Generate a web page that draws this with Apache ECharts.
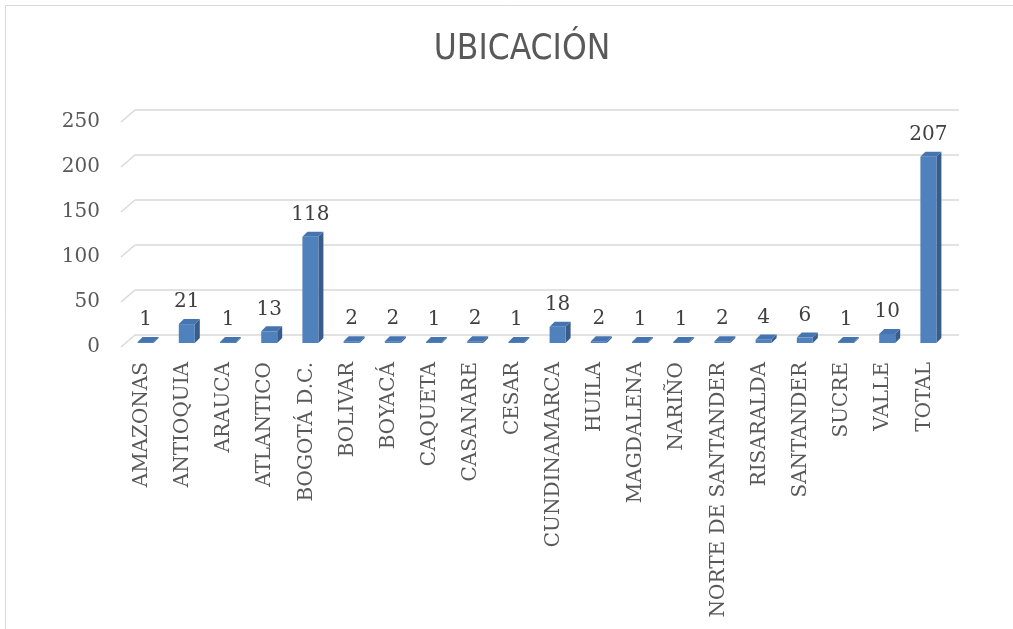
<html>
<head>
<meta http-equiv="content-type" content="text/html; charset=utf-8">
<script src="https://cdn.jsdelivr.net/npm/echarts@6/dist/echarts.min.js"></script>
<style>
html, body { margin: 0; padding: 0; background: #ffffff; }
#chart { width: 1013px; height: 629px; }
</style>
<title>Ubicación</title>
</head>
<body>
<div id="chart"></div>
<script type="text/javascript">
///////////////////////////////////////////////////////////////////////////////
// data
var categories = ["AMAZONAS", "ANTIOQUIA", "ARAUCA", "ATLANTICO", "BOGOTÁ D.C.", "BOLIVAR",
	"BOYACÁ", "CAQUETA", "CASANARE", "CESAR", "CUNDINAMARCA", "HUILA", "MAGDALENA",
	"NARIÑO", "NORTE DE SANTANDER", "RISARALDA", "SANTANDER", "SUCRE", "VALLE", "TOTAL"];
var values = [1, 21, 1, 13, 118, 2, 2, 1, 2, 1, 18, 2, 1, 1, 2, 4, 6, 1, 10, 207];
var yTicks = [0, 50, 100, 150, 200, 250];
var title = "UBICACIÓN";

///////////////////////////////////////////////////////////////////////////////
// look
var serif = "'DejaVu Serif', 'Liberation Serif', serif";
var depth_x = 14, depth_y = 12;   // back wall offset
var bar_w = 16, bar_d = 5;        // bar face width and side depth

var bar_data = categories.map(function (c, i) { return [i, values[i]]; });
var tick_data = yTicks.map(function (v) { return [0, v]; });

// back wall gridlines plus the small diagonals on the left side
function render_grid(params, api) {
	var cs = params.coordSys;
	var y = api.coord([0, api.value(1)])[1];
	var st = { stroke: '#d9d9d9', lineWidth: 1.5 };
	return {
		type: 'group',
		children: [
			{ type: 'line', shape: { x1: cs.x, y1: y, x2: cs.x + depth_x, y2: y - depth_y }, style: st },
			{ type: 'line', shape: { x1: cs.x + depth_x, y1: y - depth_y, x2: cs.x + cs.width + depth_x, y2: y - depth_y }, style: st }
		]
	};
}

// 3d looking bar: front face, right side, top, value label
function render_bar(params, api) {
	var v = api.value(1);
	var p0 = api.coord([api.value(0), 0]);
	var p1 = api.coord([api.value(0), v]);
	var cx = p0[0] + 4;
	var yb = p0[1] - 4;
	var yt = p1[1] - 4;
	if (yt > yb - 1) yt = yb - 1;
	var l = cx - bar_w / 2, r = cx + bar_w / 2;
	return {
		type: 'group',
		children: [
			{ type: 'polygon', shape: { points: [[r, yt], [r + bar_d, yt - bar_d], [r + bar_d, yb - bar_d], [r, yb]] },
				style: { fill: '#385d8a' } },
			{ type: 'rect', shape: { x: l, y: yt, width: bar_w, height: yb - yt },
				style: { fill: '#4f81bd' } },
			{ type: 'polygon', shape: { points: [[l, yt], [r, yt], [r + bar_d, yt - bar_d], [l + bar_d, yt - bar_d]] },
				style: { fill: '#4674b0' } },
			{ type: 'text', style: { text: String(v), x: cx, y: yt - 12, align: 'center', verticalAlign: 'bottom',
				fill: '#404040', font: '20px ' + serif } }
		]
	};
}

var chart = echarts.init(document.getElementById('chart'));

chart.setOption({
	animation: false,
	title: {
		text: title,
		left: 517,
		top: 27,
		textAlign: 'center',
		textStyle: { fontFamily: "'Liberation Sans Narrow', 'DejaVu Sans Condensed', sans-serif",
			fontWeight: 'normal', fontSize: 35, color: '#595959' }
	},
	graphic: [{
		type: 'rect', silent: true, z: -10,
		shape: { x: 5.5, y: 5.5, width: 1100, height: 700 },
		style: { fill: 'none', stroke: '#d9d9d9', lineWidth: 1 }
	}],
	grid: { left: 121, right: 68, top: 122, bottom: 282 },
	xAxis: {
		type: 'category',
		data: categories,
		axisLine: { show: false },
		axisTick: { show: false },
		axisLabel: { rotate: 90, interval: 0, margin: 15, color: '#595959', fontSize: 20, fontFamily: serif }
	},
	yAxis: {
		type: 'value',
		min: 0, max: 250, interval: 50,
		axisLine: { show: false },
		axisTick: { show: false },
		splitLine: { show: false },
		axisLabel: { margin: 21, color: '#595959', fontSize: 20, fontFamily: serif }
	},
	series: [
		{ type: 'custom', renderItem: render_grid, data: tick_data, silent: true, z: 1 },
		{ type: 'custom', renderItem: render_bar, data: bar_data, silent: true, z: 2 }
	]
});
</script>
</body>
</html>
